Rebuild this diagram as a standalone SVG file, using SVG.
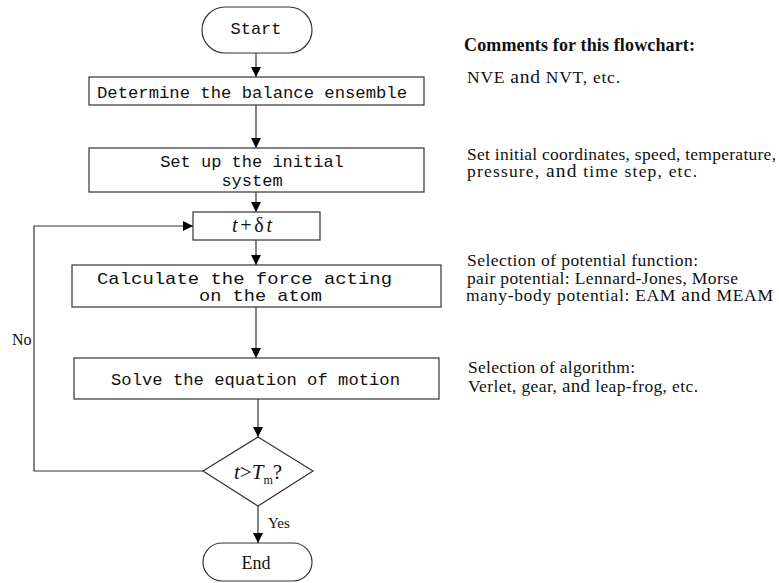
<svg xmlns="http://www.w3.org/2000/svg" width="779" height="583" viewBox="0 0 779 583">
<style>
.box{fill:#fff;stroke:#333;stroke-width:1.2}
.mono{font-family:"Liberation Mono","DejaVu Sans Mono",monospace;font-size:17px;fill:#111}
.serif{font-family:"Liberation Serif","Times New Roman",serif;fill:#111}
.cm{font-size:17.5px}
.conn{fill:none;stroke:#333;stroke-width:1.2}
</style>
<defs>
<marker id="arr" viewBox="0 0 10 10" refX="10" refY="5" markerWidth="10" markerHeight="10" markerUnits="userSpaceOnUse" orient="auto">
<path d="M0,0 L10,5 L0,10 z" fill="#000"/>
</marker>
</defs>
<rect width="779" height="583" fill="#fff"/>
<g id="connectors">
<line class="conn" x1="256" y1="53" x2="256" y2="77" marker-end="url(#arr)"/>
<line class="conn" x1="256" y1="105" x2="256" y2="148" marker-end="url(#arr)"/>
<line class="conn" x1="256" y1="192" x2="256" y2="212" marker-end="url(#arr)"/>
<line class="conn" x1="256" y1="240" x2="256" y2="265" marker-end="url(#arr)"/>
<line class="conn" x1="256" y1="307" x2="256" y2="358" marker-end="url(#arr)"/>
<line class="conn" x1="258" y1="399" x2="258" y2="437" marker-end="url(#arr)"/>
<line class="conn" x1="258" y1="506" x2="258" y2="543" marker-end="url(#arr)"/>
<polyline class="conn" points="203,471 34,471 34,226 193,226" marker-end="url(#arr)"/>
<text class="serif" x="12" y="345" style="font-size:16px">No</text>
<text class="serif" x="268" y="528" style="font-size:15px">Yes</text>
</g>
<g id="start">
<rect class="box" x="202" y="7" width="110" height="46" rx="23"/>
<text class="mono" x="256" y="34" text-anchor="middle">Start</text>
</g>
<g id="ensemble">
<rect class="box" x="89" y="77" width="335" height="28"/>
<text class="mono" x="97" y="98" textLength="310" lengthAdjust="spacingAndGlyphs" style="font-size:16px">Determine the balance ensemble</text>
</g>
<g id="setup">
<rect class="box" x="89" y="148" width="335" height="44"/>
<text class="mono" x="252" y="167" text-anchor="middle">Set up the initial</text>
<text class="mono" x="252" y="186" text-anchor="middle">system</text>
</g>
<g id="timestep">
<rect class="box" x="193" y="212" width="127" height="28"/>
<text class="serif" x="232" y="232" textLength="40" style="font-size:20px"><tspan font-style="italic">t</tspan>+δ<tspan font-style="italic">t</tspan></text>
</g>
<g id="force">
<rect class="box" x="72" y="265" width="369" height="42"/>
<text class="mono" x="97" y="284" textLength="295" lengthAdjust="spacingAndGlyphs">Calculate the force acting</text>
<text class="mono" x="199" y="301" textLength="123" lengthAdjust="spacingAndGlyphs">on the atom</text>
</g>
<g id="solve">
<rect class="box" x="74" y="358" width="365" height="41"/>
<text class="mono" x="111" y="385" textLength="289" lengthAdjust="spacingAndGlyphs">Solve the equation of motion</text>
</g>
<g id="decision">
<polygon class="box" points="258,437 313,471 258,506 203,471"/>
<text class="serif" x="234" y="479" style="font-size:21px"><tspan font-style="italic">t</tspan>&gt;<tspan font-style="italic">T</tspan><tspan style="font-size:12px" dy="5">m</tspan><tspan dy="-5">?</tspan></text>
</g>
<g id="end">
<rect class="box" x="203" y="543" width="109" height="38" rx="19"/>
<text class="serif" x="256" y="569" text-anchor="middle" style="font-size:18px">End</text>
</g>
<g id="comments">
<text class="serif" x="464" y="51" font-weight="bold" style="font-size:18px" textLength="231">Comments for this flowchart:</text>
<text class="serif cm" x="467" y="83" textLength="153">NVE <tspan style="font-size:19.5px">and</tspan> NVT, etc.</text>
<text class="serif cm" x="467" y="160" textLength="309">Set initial coordinates, speed, temperature,</text>
<text class="serif cm" x="467" y="177" textLength="230">pressure, <tspan style="font-size:19.5px">and</tspan> time step, etc.</text>
<text class="serif cm" x="467" y="266" textLength="231">Selection of potential function:</text>
<text class="serif cm" x="467" y="284" textLength="271">pair potential: Lennard-Jones, Morse</text>
<text class="serif cm" x="466" y="301" textLength="307">many-body potential: EAM <tspan style="font-size:19.5px">and</tspan> MEAM</text>
<text class="serif cm" x="468" y="373" textLength="167">Selection of algorithm:</text>
<text class="serif cm" x="468" y="392" textLength="230">Verlet, gear, <tspan style="font-size:19px">and</tspan> leap-frog, etc.</text>
</g>
</svg>
